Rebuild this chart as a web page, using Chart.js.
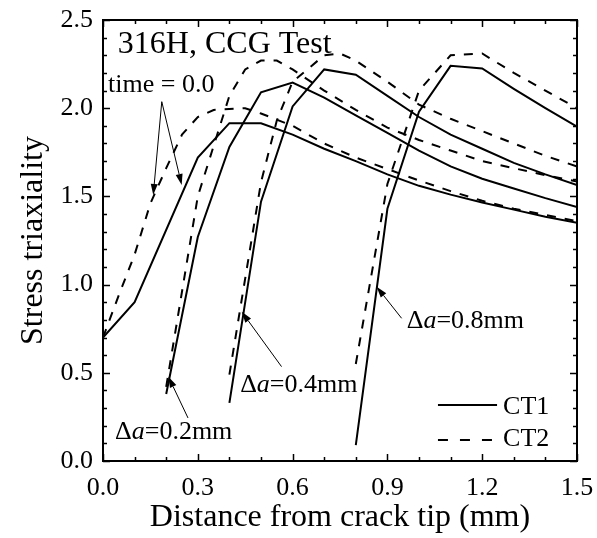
<!DOCTYPE html>
<html>
<head>
<meta charset="utf-8">
<script src="https://cdn.jsdelivr.net/npm/chart.js@4.4.1/dist/chart.umd.min.js"></script>
<style>
  html, body { margin: 0; padding: 0; background: #fff; }
</style>
</head>
<body>
<canvas id="triaxChart" width="597" height="538"></canvas>
<script>
// ── Data ───────────────────────────────────────────
const X_TICKS = [0, 0.3, 0.6, 0.9, 1.2, 1.5];
const Y_TICKS = [0, 0.5, 1.0, 1.5, 2.0, 2.5];

// CT1 (solid)
const CT1_T0_X   = [0, 0.1, 0.3, 0.4, 0.5, 0.6, 0.7, 0.8, 0.9, 1.0, 1.1, 1.2, 1.3, 1.4, 1.5];
const CT1_T0_Y   = [0.70, 0.90, 1.72, 1.915, 1.915, 1.85, 1.77, 1.70, 1.625, 1.56, 1.51, 1.465, 1.425, 1.385, 1.35];
const CT1_DA02_X = [0.2, 0.3, 0.4, 0.5, 0.6, 0.7, 0.8, 0.9, 1.0, 1.1, 1.2, 1.3, 1.4, 1.5];
const CT1_DA02_Y = [0.38, 1.27, 1.78, 2.09, 2.145, 2.06, 1.96, 1.86, 1.76, 1.67, 1.60, 1.545, 1.49, 1.44];
const CT1_DA04_X = [0.4, 0.5, 0.6, 0.7, 0.8, 0.9, 1.0, 1.1, 1.2, 1.3, 1.4, 1.5];
const CT1_DA04_Y = [0.33, 1.47, 2.01, 2.22, 2.19, 2.07, 1.95, 1.85, 1.77, 1.69, 1.625, 1.565];
const CT1_DA08_X = [0.8, 0.9, 1.0, 1.1, 1.2, 1.3, 1.4, 1.5];
const CT1_DA08_Y = [0.09, 1.43, 1.98, 2.24, 2.225, 2.11, 2.0, 1.895];

// CT2 (dashed)
const CT2_T0_X   = [0, 0.05, 0.1, 0.15, 0.2, 0.25, 0.3, 0.35, 0.45, 0.5, 0.6, 0.7, 0.8, 0.9, 1.0, 1.1, 1.2, 1.3, 1.4, 1.5];
const CT2_T0_Y   = [0.70, 0.94, 1.17, 1.46, 1.66, 1.85, 1.95, 1.99, 2.0, 1.97, 1.90, 1.80, 1.72, 1.655, 1.59, 1.53, 1.475, 1.43, 1.395, 1.36];
const CT2_DA02_X = [0.2, 0.3, 0.4, 0.45, 0.5, 0.55, 0.6, 0.7, 0.8, 0.9, 1.0, 1.1, 1.2, 1.3, 1.4, 1.5];
const CT2_DA02_Y = [0.42, 1.50, 2.07, 2.22, 2.27, 2.27, 2.22, 2.10, 1.99, 1.89, 1.82, 1.76, 1.70, 1.66, 1.62, 1.585];
const CT2_DA04_X = [0.4, 0.5, 0.55, 0.6, 0.7, 0.75, 0.8, 0.9, 1.0, 1.1, 1.2, 1.3, 1.4, 1.5];
const CT2_DA04_Y = [0.49, 1.58, 1.93, 2.15, 2.30, 2.31, 2.27, 2.15, 2.02, 1.94, 1.87, 1.80, 1.73, 1.67];
const CT2_DA08_X = [0.8, 0.9, 1.0, 1.1, 1.2, 1.3, 1.4, 1.5];
const CT2_DA08_Y = [0.55, 1.57, 2.10, 2.30, 2.31, 2.20, 2.10, 2.0];

const SERIF = '"Liberation Serif", "Times New Roman", serif';
const pts = (xs, ys) => xs.map((x, i) => ({ x, y: ys[i] }));

const solid = (xs, ys) => ({ data: pts(xs, ys), borderColor: '#000', borderWidth: 2, showLine: true, fill: false });
const dashed = (xs, ys) => ({ ...solid(xs, ys), borderDash: [9, 9] });

// ── Frame, inward ticks, annotations, legend ─────
const decorPlugin = {
  id: 'decor',
  afterDatasetsDraw(chart) {
    const { ctx, chartArea: a, scales: { x, y } } = chart;
    ctx.save();
    ctx.strokeStyle = '#000';
    ctx.fillStyle = '#000';

    // ticks (0.1 minor, labelled ones major)
    ctx.lineWidth = 1.5;
    ctx.beginPath();
    for (let i = 0; i <= 15; i++) {
      const px = Math.round(x.getPixelForValue(i / 10)) + 0.5;
      const len = i % 3 === 0 ? 7 : 4;
      ctx.moveTo(px, a.bottom); ctx.lineTo(px, a.bottom - len);
      ctx.moveTo(px, a.top); ctx.lineTo(px, a.top + len);
    }
    for (let i = 0; i <= 25; i++) {
      const py = Math.round(y.getPixelForValue(i / 10)) + 0.5;
      const len = i % 5 === 0 ? 7 : 4;
      ctx.moveTo(a.left, py); ctx.lineTo(a.left + len, py);
      ctx.moveTo(a.right, py); ctx.lineTo(a.right - len, py);
    }
    ctx.stroke();

    // frame
    ctx.lineWidth = 2;
    ctx.strokeRect(a.left, a.top, a.right - a.left, a.bottom - a.top);

    const X = v => x.getPixelForValue(v);
    const Y = v => y.getPixelForValue(v);

    // text
    ctx.textBaseline = 'middle';
    ctx.textAlign = 'left';
    ctx.font = '32px ' + SERIF;
    ctx.fillText('316H, CCG Test', X(0.047), Y(2.358));
    ctx.font = '26px ' + SERIF;
    ctx.fillText('time = 0.0', X(0.016), Y(2.13));

    const deltaLabel = (rest, vx, vy) => {
      let px = X(vx);
      const py = Y(vy);
      ctx.font = '26px ' + SERIF;
      ctx.fillText('\u0394', px, py); px += ctx.measureText('\u0394').width;
      ctx.font = 'italic 26px ' + SERIF;
      ctx.fillText('a', px, py); px += ctx.measureText('a').width;
      ctx.font = '26px ' + SERIF;
      ctx.fillText(rest, px, py);
    };
    deltaLabel('=0.2mm', 0.038, 0.164);
    deltaLabel('=0.4mm', 0.434, 0.431);
    deltaLabel('=0.8mm', 0.961, 0.794);

    // arrows
    const arrow = (x1, y1, x2, y2) => {
      const p1 = [X(x1), Y(y1)], p2 = [X(x2), Y(y2)];
      const ang = Math.atan2(p2[1] - p1[1], p2[0] - p1[0]);
      const hl = 11, hw = 3.5;
      const bx = p2[0] - hl * Math.cos(ang), by = p2[1] - hl * Math.sin(ang);
      ctx.lineWidth = 1;
      ctx.beginPath();
      ctx.moveTo(p1[0], p1[1]); ctx.lineTo(bx, by);
      ctx.stroke();
      ctx.beginPath();
      ctx.moveTo(p2[0], p2[1]);
      ctx.lineTo(bx + hw * Math.sin(ang), by - hw * Math.cos(ang));
      ctx.lineTo(bx - hw * Math.sin(ang), by + hw * Math.cos(ang));
      ctx.closePath();
      ctx.fill();
    };
    arrow(0.186, 2.037, 0.159, 1.508);
    arrow(0.186, 2.037, 0.249, 1.565);
    arrow(0.269, 0.244, 0.207, 0.478);
    arrow(0.565, 0.535, 0.439, 0.846);
    arrow(0.945, 0.809, 0.866, 0.988);

    // legend
    ctx.lineWidth = 2;
    ctx.beginPath();
    ctx.moveTo(X(1.06), Y(0.317)); ctx.lineTo(X(1.247), Y(0.317));
    ctx.stroke();
    ctx.setLineDash([10, 12]);
    ctx.beginPath();
    ctx.moveTo(X(1.06), Y(0.119)); ctx.lineTo(X(1.247), Y(0.119));
    ctx.stroke();
    ctx.setLineDash([]);
    ctx.font = '26px ' + SERIF;
    ctx.fillText('CT1', X(1.266), Y(0.306));
    ctx.fillText('CT2', X(1.266), Y(0.125));

    ctx.restore();
  }
};

new Chart(document.getElementById('triaxChart'), {
  type: 'scatter',
  data: {
    datasets: [
      solid(CT1_T0_X, CT1_T0_Y),
      solid(CT1_DA02_X, CT1_DA02_Y),
      solid(CT1_DA04_X, CT1_DA04_Y),
      solid(CT1_DA08_X, CT1_DA08_Y),
      dashed(CT2_T0_X, CT2_T0_Y),
      dashed(CT2_DA02_X, CT2_DA02_Y),
      dashed(CT2_DA04_X, CT2_DA04_Y),
      dashed(CT2_DA08_X, CT2_DA08_Y)
    ]
  },
  options: {
    responsive: false,
    animation: false,
    layout: { padding: { top: 20, right: 20, left: 0, bottom: 0 } },
    plugins: { legend: { display: false }, tooltip: { enabled: false } },
    elements: { point: { radius: 0 }, line: { tension: 0 } },
    scales: {
      x: {
        type: 'linear', min: 0, max: 1.5,
        grid: { display: false, drawTicks: false },
        border: { display: false },
        afterBuildTicks: s => { s.ticks = X_TICKS.map(v => ({ value: v })); },
        afterFit: s => { s.height = 77; s.paddingLeft = 0; s.paddingRight = 0; },
        ticks: {
          padding: 12, color: '#000', maxRotation: 0, autoSkip: false,
          font: { family: SERIF, size: 26 },
          callback: v => Number(v).toFixed(1)
        },
        title: {
          display: true, text: 'Distance from crack tip (mm)', color: '#000',
          font: { family: SERIF, size: 32 }, padding: { top: 0, bottom: 1 }
        }
      },
      y: {
        type: 'linear', min: 0, max: 2.5,
        grid: { display: false, drawTicks: false },
        border: { display: false },
        afterBuildTicks: s => { s.ticks = Y_TICKS.map(v => ({ value: v })); },
        afterFit: s => { s.width = 103; s.paddingTop = 0; s.paddingBottom = 0; },
        ticks: {
          padding: 10, color: '#000',
          font: { family: SERIF, size: 26 },
          callback: v => Number(v).toFixed(1)
        },
        title: {
          display: true, text: 'Stress triaxiality', color: '#000',
          font: { family: SERIF, size: 32 }, padding: { top: 14, bottom: 0 }
        }
      }
    }
  },
  plugins: [decorPlugin]
});
</script>
</body>
</html>
